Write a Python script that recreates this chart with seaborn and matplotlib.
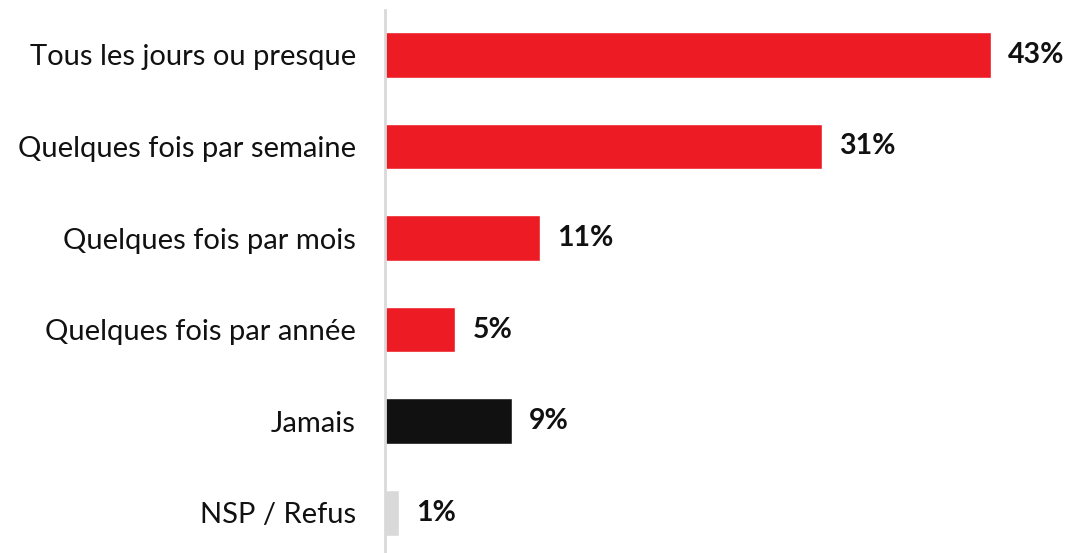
import pandas as pd
import seaborn as sns
import matplotlib.pyplot as plt

# Chart values
categories = [
    'Tous les jours ou presque',
    'Quelques fois par semaine',
    'Quelques fois par mois',
    'Quelques fois par année',
    'Jamais',
    'NSP / Refus',
]
values = [43, 31, 11, 5, 9, 1]
bar_colors = ['#ED1C24', '#ED1C24', '#ED1C24', '#ED1C24', '#111111', '#D9D9D9']

data = pd.DataFrame({'category': categories, 'value': values})

sns.set_style('white')
plt.rcParams['font.family'] = ['Lato', 'DejaVu Sans']

fig = plt.figure(figsize=(10.66, 5.53), dpi=100)
ax = fig.add_axes([385 / 1066, 0, 1 - 385 / 1066 - 0.004, 543 / 553])

sns.barplot(data=data, x='value', y='category', hue='category',
            palette=bar_colors, legend=False, width=0.5, ax=ax,
            saturation=1)

# Value labels
for i, v in enumerate(values):
    ax.text(v + 1.2, i, f'{v}%', va='center', ha='left',
            fontsize=20.5, fontweight='bold', color='#111111')

ax.set_xlim(0, 48)
ax.set_ylim(5.44, -0.49)
ax.set_xlabel('')
ax.set_ylabel('')
ax.set_xticks([])
ax.tick_params(axis='y', length=0, pad=21, labelsize=21, labelcolor='#111111')

for side in ['top', 'right', 'bottom']:
    ax.spines[side].set_visible(False)
ax.spines['left'].set_color('#D9D9D9')
ax.spines['left'].set_linewidth(2)

fig.savefig('out.png', dpi=100)
